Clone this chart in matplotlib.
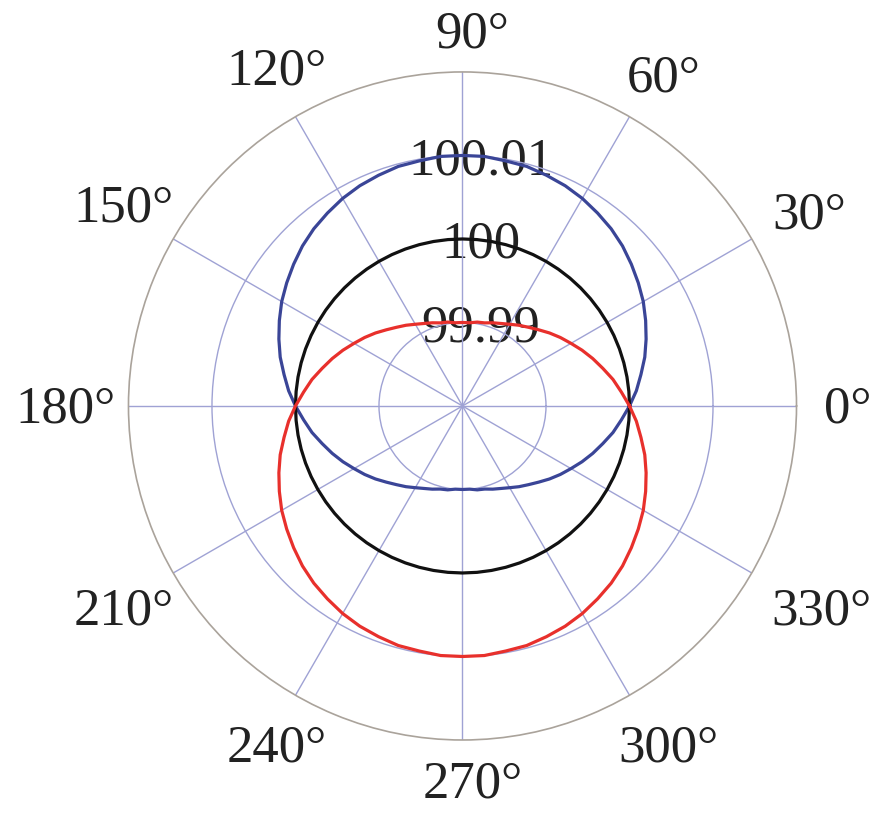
import matplotlib.pyplot as plt
import matplotlib.transforms as mtransforms
import numpy as np

plt.rcParams['font.family'] = ['Liberation Serif', 'DejaVu Serif']

# angles in degrees, radii
theta_deg = list(range(0, 361, 5))
r_blue = [100.0, 100.0009, 100.0017, 100.0026, 100.0034, 100.0042, 100.005, 100.0057, 100.0064,
          100.0071, 100.0077, 100.0082, 100.0087, 100.0091, 100.0094, 100.0097, 100.0098, 100.01,
          100.01, 100.01, 100.0098, 100.0097, 100.0094, 100.0091, 100.0087, 100.0082, 100.0077,
          100.0071, 100.0064, 100.0057, 100.005, 100.0042, 100.0034, 100.0026, 100.0017, 100.0009,
          100.0, 99.9991, 99.9983, 99.9974, 99.9966, 99.9958, 99.995, 99.9943, 99.9936,
          99.9929, 99.9923, 99.9918, 99.9913, 99.9909, 99.9906, 99.9903, 99.9902, 99.99,
          99.99, 99.99, 99.9902, 99.9903, 99.9906, 99.9909, 99.9913, 99.9918, 99.9923,
          99.9929, 99.9936, 99.9943, 99.995, 99.9958, 99.9966, 99.9974, 99.9983, 99.9991, 100.0]
r_black = [100.0] * 73
r_red = [100.0, 99.9991, 99.9983, 99.9974, 99.9966, 99.9958, 99.995, 99.9943, 99.9936,
         99.9929, 99.9923, 99.9918, 99.9913, 99.9909, 99.9906, 99.9903, 99.9902, 99.99,
         99.99, 99.99, 99.9902, 99.9903, 99.9906, 99.9909, 99.9913, 99.9918, 99.9923,
         99.9929, 99.9936, 99.9943, 99.995, 99.9958, 99.9966, 99.9974, 99.9983, 99.9991,
         100.0, 100.0009, 100.0017, 100.0026, 100.0034, 100.0042, 100.005, 100.0057, 100.0064,
         100.0071, 100.0077, 100.0082, 100.0087, 100.0091, 100.0094, 100.0097, 100.0098, 100.01,
         100.01, 100.01, 100.0098, 100.0097, 100.0094, 100.0091, 100.0087, 100.0082, 100.0077,
         100.0071, 100.0064, 100.0057, 100.005, 100.0042, 100.0034, 100.0026, 100.0017, 100.0009, 100.0]

r_ticks = [99.99, 100.0, 100.01]
r_tick_labels = ["99.99", "100", "100.01"]
theta_ticks = list(range(0, 360, 30))
theta_labels = ["%d°" % t for t in theta_ticks]

fig = plt.figure(figsize=(8.86, 8.13), dpi=100)
ax = fig.add_axes([0.145, 0.0898, 0.754, 0.8217], projection='polar')

th = np.radians(theta_deg)
ax.plot(th, r_blue, color='#3a4597', lw=2.3, zorder=3)
ax.plot(th, r_black, color='#111111', lw=2.3, zorder=3)
ax.plot(th, r_red, color='#e8302c', lw=2.3, zorder=3)

ax.set_ylim(99.98, 100.02)
ax.set_yticks(r_ticks)
ax.set_yticklabels([])
ax.set_xticks(np.radians(theta_ticks))
ax.set_xticklabels([])
ax.grid(True, color='#9fa2d4', lw=1.0)
ax.spines['polar'].set_color('#aaa39b')
ax.spines['polar'].set_linewidth(1.2)

# angle labels, placed in pixels from the centre; longer labels sit further out at the sides
for t, lab in zip(theta_ticks, theta_labels):
    a = np.radians(t)
    dist = 375 + 16 * (len(lab) - 2) * abs(np.cos(a))
    off = mtransforms.ScaledTranslation((dist * np.cos(a) + 10) / 100,
                                        (dist * np.sin(a) - 4) / 100, fig.dpi_scale_trans)
    ax.text(0, 99.98, lab, ha='center', va='center', fontsize=38,
            color='#222222', clip_on=False, transform=ax.transData + off)

shift = mtransforms.ScaledTranslation(18 / 100, -6 / 100, fig.dpi_scale_trans)
for r, lab in zip(r_ticks, r_tick_labels):
    ax.text(np.radians(90), r, lab, ha='center', va='center', fontsize=38,
            color='#222222', zorder=1, transform=ax.transData + shift)

fig.savefig('out.png', dpi=100)
